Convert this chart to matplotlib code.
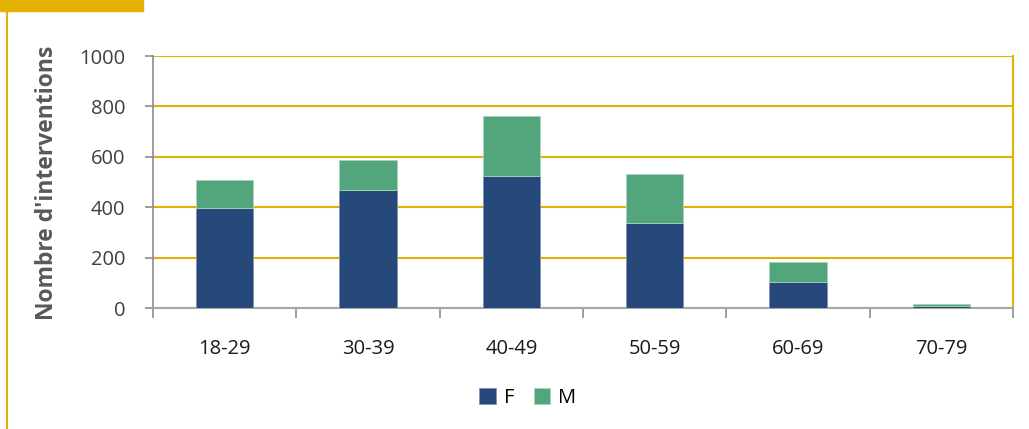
import matplotlib.pyplot as plt
import numpy as np

categories = ['18-29', '30-39', '40-49', '50-59', '60-69', '70-79']
f_values = [398, 467, 524, 336, 104, 8]
m_values = [110, 120, 238, 196, 79, 8]
y_ticks = [0, 200, 400, 600, 800, 1000]

plt.rcParams['font.family'] = ['Open Sans', 'DejaVu Sans']

fig = plt.figure(figsize=(10.29, 4.29), dpi=100)
ax = fig.add_axes([153 / 1029, 1 - 308 / 429, 860 / 1029, 252 / 429])

x = np.arange(len(categories))
ax.bar(x, f_values, width=0.4, color='#26487A', edgecolor='#7F93B5', linewidth=0.6, label='F', zorder=3)
ax.bar(x, m_values, width=0.4, bottom=f_values, color='#53A57C', edgecolor='#A7D4BC', linewidth=0.6, label='M', zorder=3)

ax.set_xlim(-0.5, len(categories) - 0.5)
ax.set_ylim(0, 1000)
ax.set_yticks(y_ticks)
ax.yaxis.grid(True, color='#E3B100', linewidth=1.5, zorder=0)
ax.set_xticks(x)
ax.set_xticklabels(categories)
ax.set_xticks(np.arange(len(categories) + 1) - 0.5, minor=True)
ax.tick_params(axis='x', which='major', length=0, pad=22, labelsize=14.5, labelcolor='#1A1A1A')
ax.tick_params(axis='x', which='minor', length=7, color='#8C8C8C', width=1.2)
ax.tick_params(axis='y', length=6, color='#8C8C8C', width=1.2, labelsize=14.5, labelcolor='#404040', pad=14)

ax.spines['top'].set_visible(False)
ax.spines['right'].set_color('#E3B100')
ax.spines['right'].set_linewidth(1.5)
ax.spines['left'].set_color('#8C8C8C')
ax.spines['left'].set_linewidth(1.2)
ax.spines['bottom'].set_color('#A6A6A6')
ax.spines['bottom'].set_linewidth(1.5)

fig.text(47 / 1029, 1 - 183 / 429, "Nombre d'interventions", rotation=90, ha='center', va='center',
         fontsize=16.5, fontweight='bold', color='#595959')

fig.legend(loc='center', bbox_to_anchor=(528 / 1029, 1 - 398 / 429), ncol=2, frameon=False,
           fontsize=14.5, handlelength=0.8, handleheight=0.8, columnspacing=1.0, handletextpad=0.4)

# decoration jaune en haut a gauche
fig.add_artist(plt.Rectangle((0, 1 - 11 / 429), 143 / 1029, 11 / 429, transform=fig.transFigure, color='#E3B100'))
fig.add_artist(plt.Line2D([7 / 1029, 7 / 1029], [0, 1], transform=fig.transFigure, color='#E3B100', linewidth=1.5))

fig.savefig('out.png', dpi=100)
